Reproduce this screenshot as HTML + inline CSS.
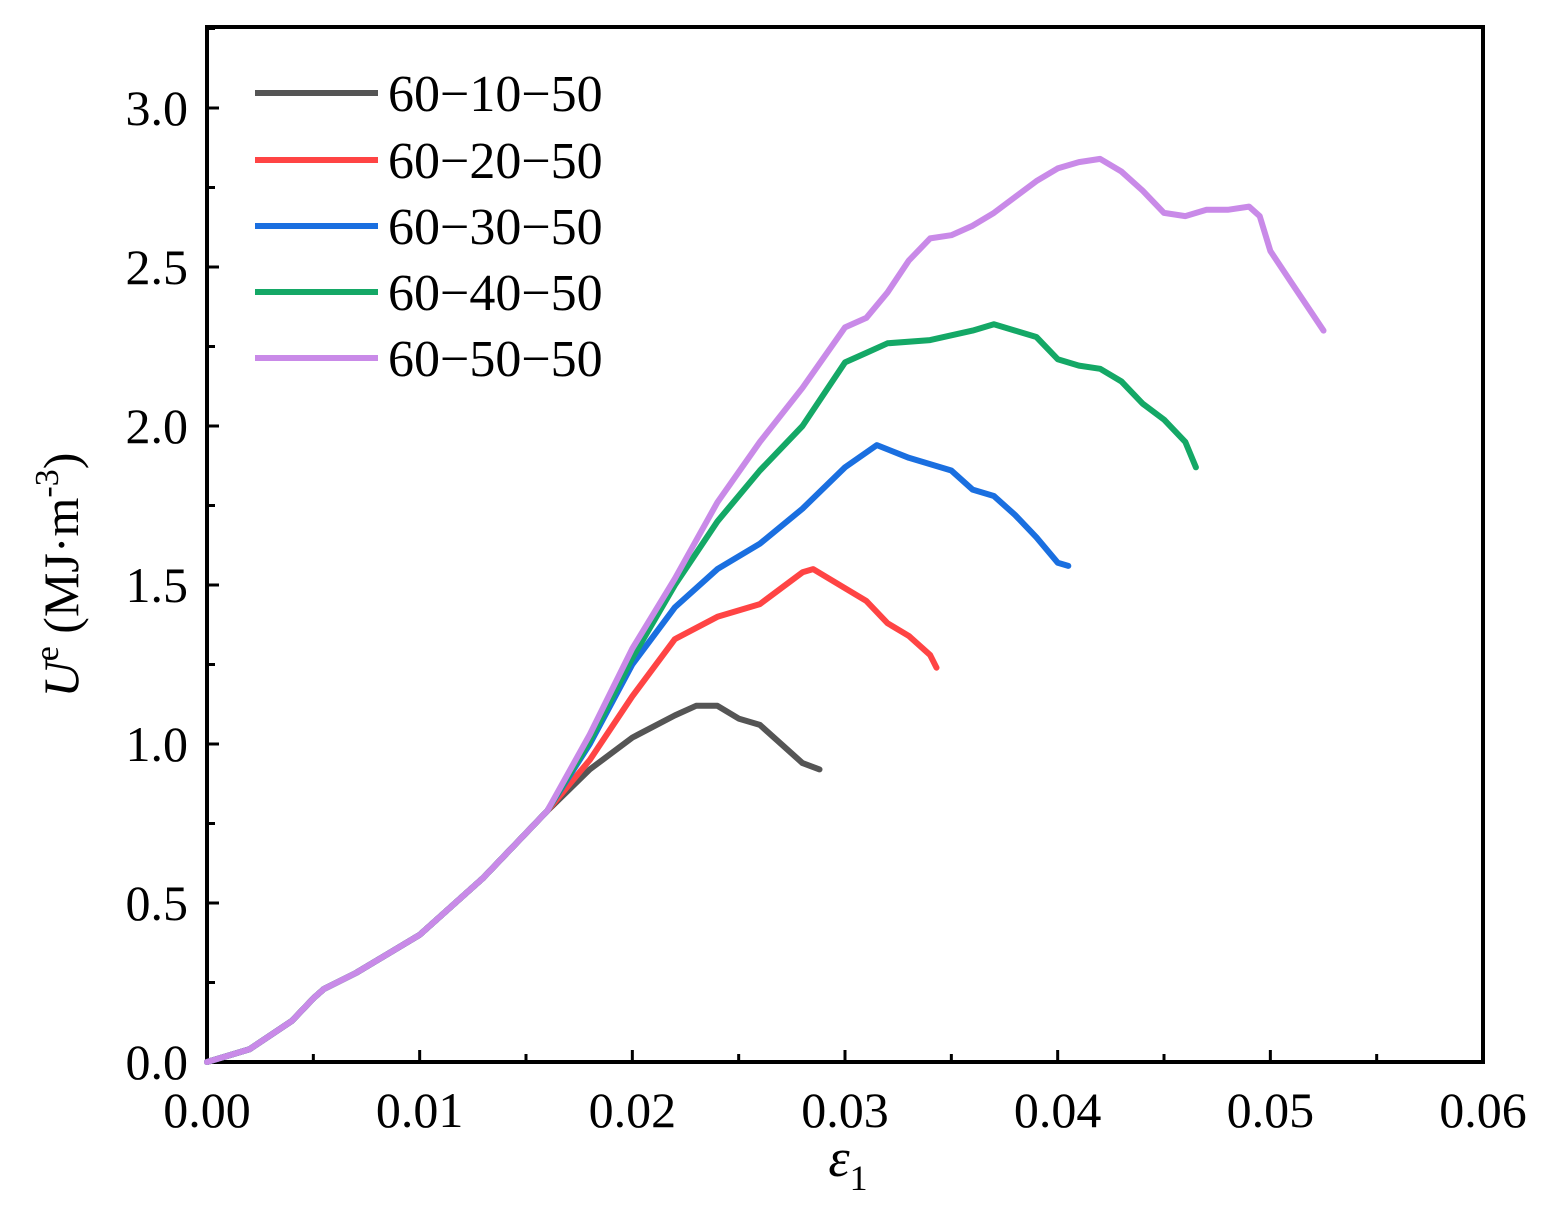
<!DOCTYPE html>
<html><head><meta charset="utf-8"><style>
html,body{margin:0;padding:0;background:#fff}
text{font-family:"Liberation Serif",serif;fill:#000}
</style></head><body>
<svg id="s" width="1550" height="1220" xmlns="http://www.w3.org/2000/svg">
<rect x="207" y="27" width="1276" height="1035" fill="none" stroke="#000" stroke-width="4"/>
<g id="ticks" stroke="#000" stroke-width="3"></g>
<g id="labels" font-size="50"></g>
<g id="curves" fill="none" stroke-width="6" stroke-linejoin="round" stroke-linecap="round"></g>
<g font-size="52">
<line x1="255" y1="93" x2="378" y2="93" stroke="#555" stroke-width="6"/><text x="388" y="111">60−10−50</text>
<line x1="255" y1="160" x2="378" y2="160" stroke="#f44" stroke-width="6"/><text x="388" y="178">60−20−50</text>
<line x1="255" y1="226" x2="378" y2="226" stroke="#1a6fe0" stroke-width="6"/><text x="388" y="244">60−30−50</text>
<line x1="255" y1="292" x2="378" y2="292" stroke="#14a866" stroke-width="6"/><text x="388" y="310">60−40−50</text>
<line x1="255" y1="358" x2="378" y2="358" stroke="#c98ae8" stroke-width="6"/><text x="388" y="376">60−50−50</text>
</g>
<text x="848" y="1176" font-size="54" font-style="italic" text-anchor="middle">ε<tspan font-size="36" font-style="normal" dy="14">1</tspan></text>
<text transform="translate(78,575) rotate(-90)" font-size="50" text-anchor="middle"><tspan font-style="italic">U</tspan><tspan font-size="34" dy="-20">e</tspan><tspan dy="20"> (MJ·m</tspan><tspan font-size="34" dy="-20">-3</tspan><tspan dy="20">)</tspan></text>
</svg>
<script>
const X=v=>207+v*21267, Y=v=>1062-v*318;
const t=document.getElementById('ticks'),l=document.getElementById('labels'),c=document.getElementById('curves');
let h='',lh='';
for(let i=0;i<=12;i++){const x=X(i*0.005);const len=i%2?8:12;h+=`<line x1="${x}" y1="1062" x2="${x}" y2="${1062-len}"/>`;
 if(i%2==0)lh+=`<text x="${x}" y="1127" text-anchor="middle">${(i*0.005).toFixed(2)}</text>`;}
for(let i=0;i<=13;i++){const y=Y(i*0.25);const len=i%2?8:12;h+=`<line x1="207" y1="${y}" x2="${207+len}" y2="${y}"/>`;
 if(i%2==0&&i<=12)lh+=`<text x="188" y="${y+17}" text-anchor="end">${(i*0.25).toFixed(1)}</text>`;}
t.innerHTML=h;l.innerHTML=lh;
const base=[[0,0],[0.002,0.04],[0.004,0.13],[0.005,0.2],[0.0055,0.23],[0.007,0.28],[0.01,0.4],[0.013,0.58],[0.016,0.79]];
const S=[
['#555',[[0.018,0.92],[0.02,1.02],[0.022,1.09],[0.023,1.12],[0.024,1.12],[0.025,1.08],[0.026,1.06],[0.027,1.0],[0.028,0.94],[0.0288,0.92]]],
['#f44',[[0.018,0.95],[0.02,1.15],[0.022,1.33],[0.024,1.40],[0.026,1.44],[0.027,1.49],[0.028,1.54],[0.0285,1.55],[0.03,1.49],[0.031,1.45],[0.032,1.38],[0.033,1.34],[0.034,1.28],[0.0343,1.24]]],
['#1a6fe0',[[0.018,1.0],[0.02,1.25],[0.022,1.43],[0.024,1.55],[0.026,1.63],[0.028,1.74],[0.03,1.87],[0.0315,1.94],[0.033,1.9],[0.035,1.86],[0.036,1.8],[0.037,1.78],[0.038,1.72],[0.039,1.65],[0.04,1.57],[0.0405,1.56]]],
['#14a866',[[0.018,1.01],[0.02,1.27],[0.022,1.5],[0.024,1.7],[0.026,1.86],[0.028,2.0],[0.03,2.2],[0.031,2.23],[0.032,2.26],[0.034,2.27],[0.036,2.3],[0.037,2.32],[0.038,2.3],[0.039,2.28],[0.04,2.21],[0.041,2.19],[0.042,2.18],[0.043,2.14],[0.044,2.07],[0.045,2.02],[0.046,1.95],[0.0465,1.87]]],
['#c98ae8',[[0.018,1.03],[0.02,1.3],[0.022,1.52],[0.024,1.76],[0.026,1.95],[0.028,2.12],[0.03,2.31],[0.031,2.34],[0.032,2.42],[0.033,2.52],[0.034,2.59],[0.035,2.6],[0.036,2.63],[0.037,2.67],[0.038,2.72],[0.039,2.77],[0.04,2.81],[0.041,2.83],[0.042,2.84],[0.043,2.8],[0.044,2.74],[0.045,2.67],[0.046,2.66],[0.047,2.68],[0.048,2.68],[0.049,2.69],[0.0495,2.66],[0.05,2.55],[0.051,2.45],[0.052,2.35],[0.0525,2.3]]]];
let ch='';
for(const [col,pts] of S){const all=base.concat(pts);ch+=`<polyline stroke="${col}" points="${all.map(p=>X(p[0]).toFixed(1)+','+Y(p[1]).toFixed(1)).join(' ')}"/>`;}
c.innerHTML=ch;
</script>
</body></html>
